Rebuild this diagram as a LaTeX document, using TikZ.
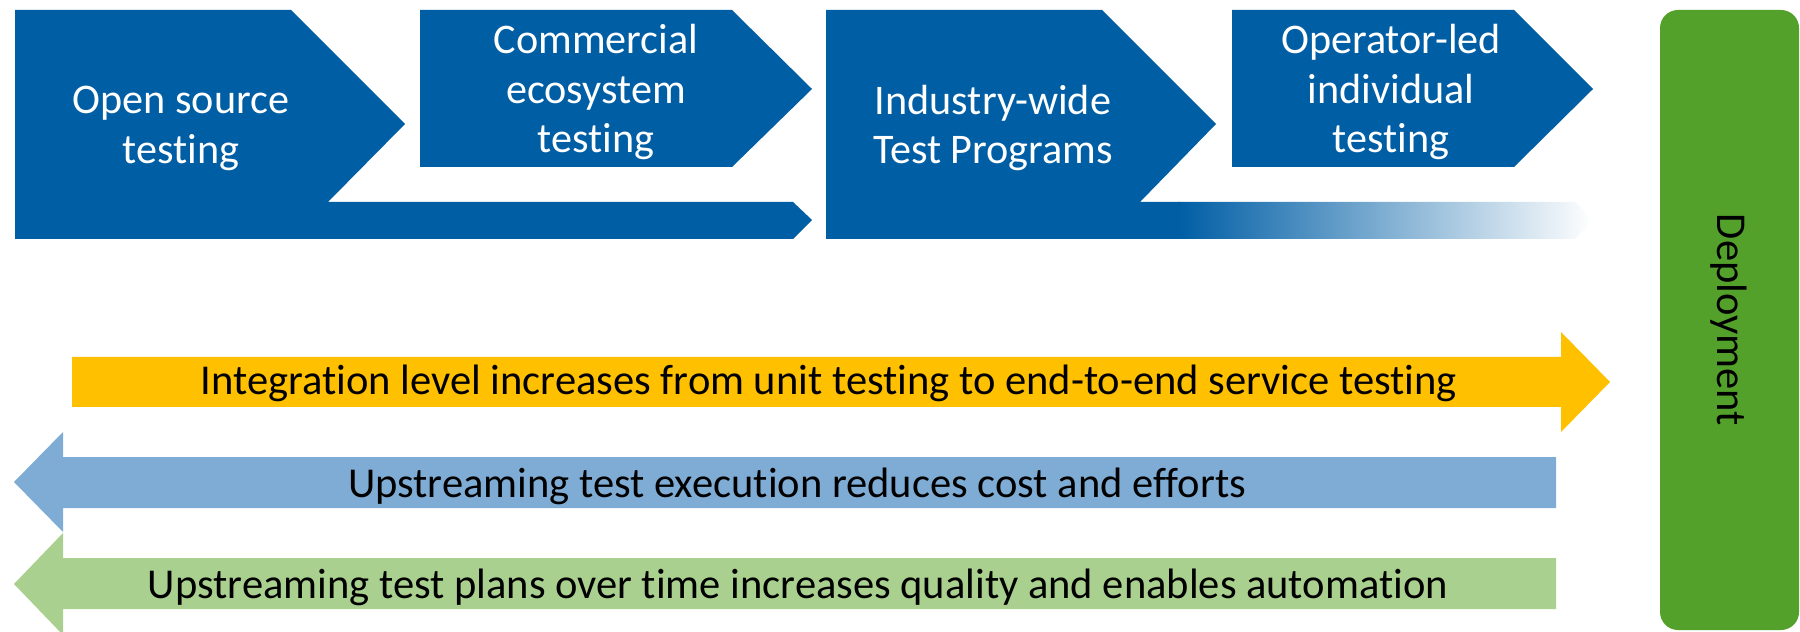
\documentclass[tikz,border=0pt]{standalone}
\usepackage{fontspec}
\setmainfont[Ligatures=NoCommon]{Carlito}
\usetikzlibrary{positioning}

\definecolor{stageblue}{RGB}{0,94,165}
\definecolor{levelyellow}{RGB}{255,192,0}
\definecolor{costblue}{RGB}{126,172,212}
\definecolor{plangreen}{RGB}{169,208,142}
\definecolor{deploygreen}{RGB}{83,161,43}

\tikzstyle{stage}=[fill=stageblue]
\tikzstyle{stagetext}=[white, align=center, font=\fontsize{12}{14.2}\selectfont]
\tikzstyle{band}=[draw=none]
\tikzstyle{bandtext}=[black, anchor=base, font=\fontsize{12.1}{14}\selectfont]

\begin{document}
\begin{tikzpicture}[x=0.1mm, y=-0.1mm]
  \useasboundingbox (0,0) rectangle (1800,632);

  \fill [stage] (15,10) -- (291,10) -- (405,124) -- (328,202) -- (793,202) -- (812,220) -- (793,239) -- (15,239) -- cycle;
  \fill [stage] (420,10) -- (732,10) -- (812,89) -- (732,167) -- (420,167) -- cycle;
  \fill [stage] (826,10) -- (1102,10) -- (1216,124) -- (1140,202) -- (1180,202) -- (1180,239) -- (826,239) -- cycle;
  \shade [left color=stageblue, right color=white] (1178,202) -- (1575,202) -- (1593,220) -- (1575,239) -- (1178,239) -- cycle;
  \fill [stage] (1232,10) -- (1514,10) -- (1593,89) -- (1514,167) -- (1232,167) -- cycle;

  \node [stagetext] (open) at (181,128) {Open source\\testing};
  \node [stagetext] (commercial) at (596,92) {Commercial\\ecosystem\\testing};
  \node [stagetext] (industry) at (993,128) {Industry-wide\\Test Programs};
  \node [stagetext] (operator) at (1391,92) {Operator-led\\individual\\testing};

  \fill [band, levelyellow] (72,357) -- (1561,357) -- (1561,332) -- (1610,382) -- (1561,432) -- (1561,407) -- (72,407) -- cycle;
  \fill [band, costblue] (1556,457) -- (63,457) -- (63,432) -- (14,482) -- (63,532) -- (63,508) -- (1556,508) -- cycle;
  \fill [band, plangreen] (1556,558) -- (63,558) -- (63,533) -- (14,584) -- (63,635) -- (63,609) -- (1556,609) -- cycle;

  \node [bandtext] (integration) at (829,395) {Integration level increases from unit testing to end-to-end service testing};
  \node [bandtext] (execution) at (797,497) {Upstreaming test execution reduces cost and efforts};
  \node [bandtext] (plans) at (798,598) {Upstreaming test plans over time increases quality and enables automation};

  \fill [deploygreen, rounded corners=1.8mm] (1660,10) rectangle (1799,630);
  \node [rotate=-90, font=\fontsize{12.1}{14.2}\selectfont] (deployment) at (1729,320) {Deployment};
\end{tikzpicture}
\end{document}
